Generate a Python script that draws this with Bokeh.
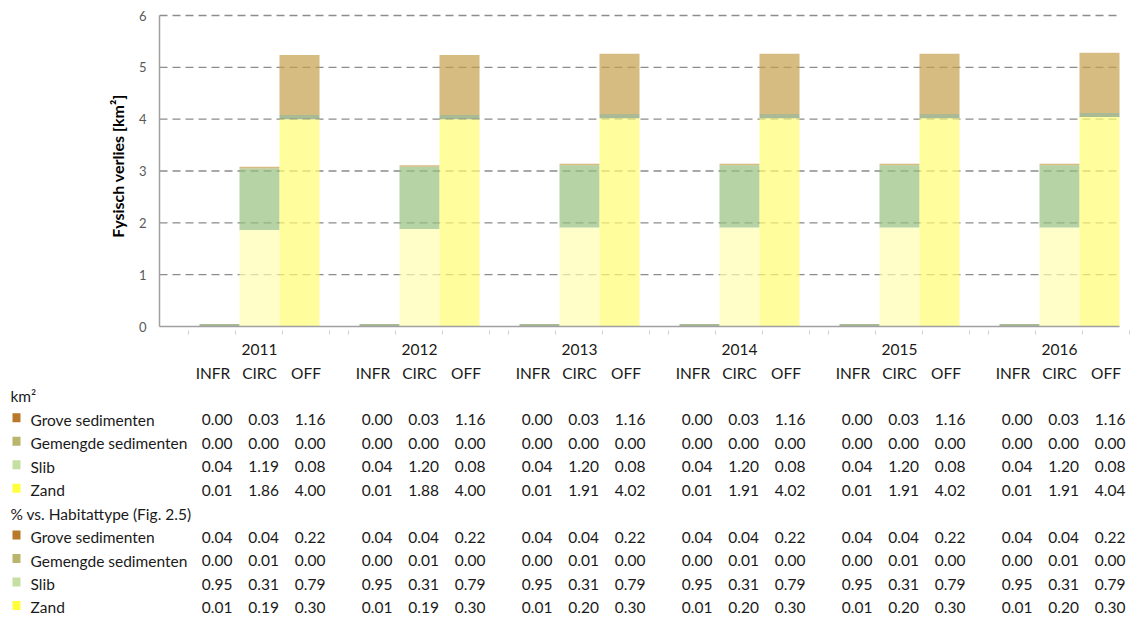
import math
from bokeh.plotting import figure
from bokeh.models import Range1d, ColumnDataSource
from bokeh.embed import file_html
from bokeh.resources import INLINE
from bokeh.core.properties import value

# ---------------- data ----------------
years = ["2011", "2012", "2013", "2014", "2015", "2016"]
cats = ["INFR", "CIRC", "OFF"]
types = ["Grove sedimenten", "Gemengde sedimenten", "Slib", "Zand"]

# km2, ordered year by year: INFR, CIRC, OFF
grove_km2 = [0.00, 0.03, 1.16, 0.00, 0.03, 1.16, 0.00, 0.03, 1.16,
             0.00, 0.03, 1.16, 0.00, 0.03, 1.16, 0.00, 0.03, 1.16]
gemengde_km2 = [0.00, 0.00, 0.00, 0.00, 0.00, 0.00, 0.00, 0.00, 0.00,
                0.00, 0.00, 0.00, 0.00, 0.00, 0.00, 0.00, 0.00, 0.00]
slib_km2 = [0.04, 1.19, 0.08, 0.04, 1.20, 0.08, 0.04, 1.20, 0.08,
            0.04, 1.20, 0.08, 0.04, 1.20, 0.08, 0.04, 1.20, 0.08]
zand_km2 = [0.01, 1.86, 4.00, 0.01, 1.88, 4.00, 0.01, 1.91, 4.02,
            0.01, 1.91, 4.02, 0.01, 1.91, 4.02, 0.01, 1.91, 4.04]

# % vs. Habitattype (Fig. 2.5)
grove_pct = [0.04, 0.04, 0.22, 0.04, 0.04, 0.22, 0.04, 0.04, 0.22,
             0.04, 0.04, 0.22, 0.04, 0.04, 0.22, 0.04, 0.04, 0.22]
gemengde_pct = [0.00, 0.01, 0.00, 0.00, 0.01, 0.00, 0.00, 0.01, 0.00,
                0.00, 0.01, 0.00, 0.00, 0.01, 0.00, 0.00, 0.01, 0.00]
slib_pct = [0.95, 0.31, 0.79, 0.95, 0.31, 0.79, 0.95, 0.31, 0.79,
            0.95, 0.31, 0.79, 0.95, 0.31, 0.79, 0.95, 0.31, 0.79]
zand_pct = [0.01, 0.19, 0.30, 0.01, 0.19, 0.30, 0.01, 0.20, 0.30,
            0.01, 0.20, 0.30, 0.01, 0.20, 0.30, 0.01, 0.20, 0.30]

y_ticks = [0, 1, 2, 3, 4, 5, 6]
y_title = "Fysisch verlies [km²]"
section_titles = ["km²", "% vs. Habitattype (Fig. 2.5)"]

km2 = {"Grove sedimenten": grove_km2, "Gemengde sedimenten": gemengde_km2,
       "Slib": slib_km2, "Zand": zand_km2}
pct = {"Grove sedimenten": grove_pct, "Gemengde sedimenten": gemengde_pct,
       "Slib": slib_pct, "Zand": zand_pct}

# ---------------- styles / layout ----------------
FONT = "Lato"
TXT = "#1a1a1a"
legend_colors = {"Grove sedimenten": "#B8792B", "Gemengde sedimenten": "#B9B56C",
                 "Slib": "#C5DFA3", "Zand": "#FFFF3C"}
bar_colors = {
    ("Zand", "INFR"): "#FFFCB0", ("Zand", "CIRC"): "#FFFCB0", ("Zand", "OFF"): "#FFFC72",
    ("Slib", "INFR"): "#849C68", ("Slib", "CIRC"): "#95C07E", ("Slib", "OFF"): "#849C68",
    ("Gemengde sedimenten", "INFR"): "#A6A050", ("Gemengde sedimenten", "CIRC"): "#A6A050",
    ("Gemengde sedimenten", "OFF"): "#A6A050",
    ("Grove sedimenten", "INFR"): "#C49F4C", ("Grove sedimenten", "CIRC"): "#C49F4C",
    ("Grove sedimenten", "OFF"): "#C49F4C",
}
stack_order = ["Zand", "Slib", "Gemengde sedimenten", "Grove sedimenten"]

W, H = 1138, 615
# chart plot area in canvas pixels
PX0, SLOT_PX = 159, 40          # left edge of plot area, width of one category slot
PY0, PY6 = 326, 15              # pixel rows of y = 0 and y = 6
ppu = (PY0 - PY6) / 6.0
n_slots = 4 * len(years)

p = figure(width=W, height=H, x_range=Range1d(0, W), y_range=Range1d(H, 0),
           output_backend="svg", toolbar_location=None, min_border=0,
           x_axis_type=None, y_axis_type=None)
p.outline_line_color = None
p.grid.visible = False
p.background_fill_color = "white"
p.border_fill_color = "white"
p.extra_x_ranges = {"slot": Range1d(-PX0 / SLOT_PX, (W - PX0) / SLOT_PX)}
p.extra_y_ranges = {"km2": Range1d(-(H - PY0) / ppu, 6 + PY6 / ppu)}
C = dict(x_range_name="slot", y_range_name="km2")

# gridlines (dashed)
gl = [v for v in y_ticks if v > 0]
p.segment(x0=[0] * len(gl), x1=[n_slots] * len(gl), y0=gl, y1=gl,
          line_color="#8c8c8c", line_width=1.4, line_dash="8 5", **C)

# bars
xs, bottoms, tops, colors = [], [], [], []
for g, yr in enumerate(years):
    for j, c in enumerate(cats):
        idx = g * len(cats) + j
        base = 0.0
        for t_name in stack_order:
            v = km2[t_name][idx]
            xs.append(4 * g + 1 + j + 0.5)
            bottoms.append(base)
            tops.append(base + v)
            colors.append(bar_colors[(t_name, c)])
            base += v
src = ColumnDataSource(dict(x=xs, bottom=bottoms, top=tops, color=colors))
p.vbar(x="x", bottom="bottom", top="top", width=1.0, fill_color="color",
       fill_alpha=0.7, line_color=None, source=src, **C)

# axes lines
p.segment(x0=[0, 0], x1=[0, n_slots], y0=[0, 0], y1=[y_ticks[-1], 0],
          line_color="#a0a0a0", line_width=1.5, **C)
# y tick labels
p.text(x=[0] * len(y_ticks), y=y_ticks, text=[str(v) for v in y_ticks],
       x_offset=-13, text_align="right", text_baseline="middle",
       text_font=value(FONT), text_font_size="13px", text_color="#595959", **C)
# y axis title
p.text(x=[0], y=[y_ticks[-1] / 2], text=[y_title], x_offset=-42, y_offset=-5,
       angle=math.pi / 2, text_align="center", text_baseline="middle",
       text_font=value(FONT), text_font_size="16px", text_font_style="bold",
       text_color="#000000", **C)

# ---------------- table ----------------
row0 = 349
dy = 23.45
grp = 160
num_right0 = 232
hdr_c0 = 212.5
col_dx = 46.5
year_c0 = 259
tick_x0 = 188
FS = "15.5px"

# small faint ticks under the axis
tx = []
for g in range(len(years)):
    for k in range(4):
        tx.append(tick_x0 + grp * g + 47 * k)
p.segment(x0=tx, x1=tx, y0=[330] * len(tx), y1=[334] * len(tx),
          line_color="#d0d0d0", line_width=1)

hx, hy, htext = [], [], []
for g, yr in enumerate(years):
    hx.append(year_c0 + grp * g); hy.append(row0); htext.append(yr)
for g in range(len(years)):
    for j, c in enumerate(cats):
        hx.append(hdr_c0 + grp * g + col_dx * j); hy.append(row0 + dy); htext.append(c)
p.text(x=hx, y=hy, text=htext, text_font=value(FONT), text_font_size=FS,
       text_align="center", text_baseline="middle", text_color=TXT)

nx, ny, ntext = [], [], []
for block, data in enumerate([km2, pct]):
    for r, t_name in enumerate(types):
        yrow = row0 + dy * (3 + r + 5 * block)
        for g in range(len(years)):
            for j in range(len(cats)):
                idx = g * len(cats) + j
                nx.append(num_right0 + grp * g + col_dx * j)
                ny.append(yrow)
                ntext.append(f"{data[t_name][idx]:.2f}")
p.text(x=nx, y=ny, text=ntext, text_font=value(FONT), text_font_size=FS,
       text_align="right", text_baseline="middle", text_color=TXT)

# left labels with colour swatches
lx, ly, ltext = [], [], []
sx, sy, scol = [], [], []
for block in range(2):
    lx.append(10); ly.append(row0 + dy * (2 + 5 * block)); ltext.append(section_titles[block])
    for r, t_name in enumerate(types):
        yrow = row0 + dy * (3 + r + 5 * block)
        lx.append(30); ly.append(yrow); ltext.append(t_name)
        sx.append(16); sy.append(yrow - 2); scol.append(legend_colors[t_name])
p.text(x=lx, y=ly, text=ltext, text_font=value(FONT), text_font_size=FS,
       text_align="left", text_baseline="middle", text_color=TXT)
p.rect(x=sx, y=sy, width=8, height=9, fill_color=scol, line_color=None)

open("out.html", "w").write(file_html(p, INLINE))
